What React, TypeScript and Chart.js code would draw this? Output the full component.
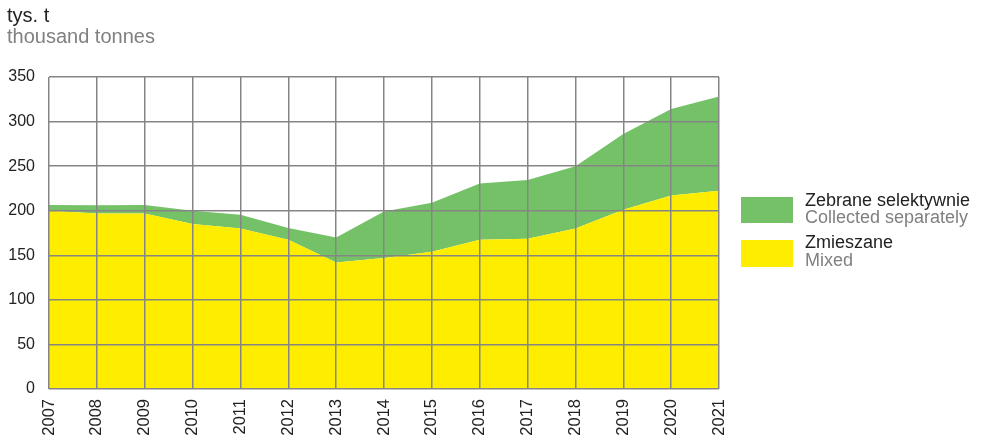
import React, { useEffect, useRef } from "react";
import { Chart, registerables } from "chart.js";

Chart.register(...registerables);

const years = ["2007","2008","2009","2010","2011","2012","2013","2014","2015","2016","2017","2018","2019","2020","2021"];
const mixed = [200, 197, 197, 185, 180, 167.5, 142, 147, 154, 167.5, 168.5, 180, 201, 217, 222.5];
const separately = [6.5, 9, 9.5, 15, 15.5, 13, 28, 52, 55, 63, 66, 70, 85, 97, 105.5];
const yTicks = [0, 50, 100, 150, 200, 250, 300, 350];

const GREEN = "#75c167";
const YELLOW = "#ffed00";
const GRID = "#858585";
const FONT = "'Liberation Sans', Arial, sans-serif";

export default function App() {
  const ref = useRef<HTMLCanvasElement | null>(null);
  useEffect(() => {
    document.body.style.margin = "0";
    const ctx = ref.current!;
    const chart = new Chart(ctx, {
      type: "line",
      data: {
        labels: years,
        datasets: [
          {
            label: "Zmieszane",
            data: mixed,
            backgroundColor: YELLOW,
            borderWidth: 0,
            pointRadius: 0,
            fill: "origin",
            tension: 0,
          },
          {
            label: "Zebrane selektywnie",
            data: separately,
            backgroundColor: GREEN,
            borderWidth: 0,
            pointRadius: 0,
            fill: "-1",
            tension: 0,
          },
        ],
      },
      options: {
        animation: false,
        responsive: false,
        maintainAspectRatio: false,
        layout: { padding: { top: 77, right: 266, left: 0, bottom: 0 } },
        plugins: { legend: { display: false }, tooltip: { enabled: false }, title: { display: false } },
        scales: {
          x: {
            offset: false,
            grid: { color: GRID, lineWidth: 1.5, drawTicks: false, z: 1 },
            border: { display: false },
            ticks: {
              color: "#222",
              font: { family: FONT, size: 16.5 },
              maxRotation: 90,
              minRotation: 90,
              padding: 10,
              autoSkip: false,
            },
            afterFit: (s: any) => { s.height = 51; },
          },
          y: {
            stacked: true,
            min: 0,
            max: 350,
            afterBuildTicks: (s: any) => { s.ticks = yTicks.map((v) => ({ value: v })); },
            grid: { color: GRID, lineWidth: 1.5, drawTicks: false, z: 1 },
            border: { display: false },
            ticks: {
              color: "#222",
              font: { family: FONT, size: 16 },
              padding: 14,
            },
            afterFit: (s: any) => { s.width = 49; },
          },
        },
      },
    });
    return () => chart.destroy();
  }, []);

  const txt: React.CSSProperties = { position: "absolute", fontFamily: FONT, fontSize: "18px", lineHeight: "17.5px", whiteSpace: "nowrap" };
  return (
    <div style={{ position: "relative", width: 985, height: 440, background: "#fff" }}>
      <canvas ref={ref} width={985} height={440} style={{ position: "absolute", left: 0, top: 0 }} />
      <div style={{ position: "absolute", left: 7, top: 5.3, fontFamily: FONT, fontSize: "20px", lineHeight: "20.5px", whiteSpace: "nowrap" }}>
        <div style={{ color: "#222" }}>tys. t</div>
        <div style={{ color: "#808080" }}>thousand tonnes</div>
      </div>
      <div style={{ position: "absolute", left: 741, top: 197, width: 52, height: 26, background: GREEN }} />
      <div style={{ position: "absolute", left: 741, top: 240, width: 52, height: 27, background: YELLOW }} />
      <div style={{ ...txt, left: 805, top: 191.7 }}>
        <div style={{ color: "#222" }}>Zebrane selektywnie</div>
        <div style={{ color: "#808080" }}>Collected separately</div>
      </div>
      <div style={{ ...txt, left: 805, top: 234.3 }}>
        <div style={{ color: "#222" }}>Zmieszane</div>
        <div style={{ color: "#808080" }}>Mixed</div>
      </div>
    </div>
  );
}
